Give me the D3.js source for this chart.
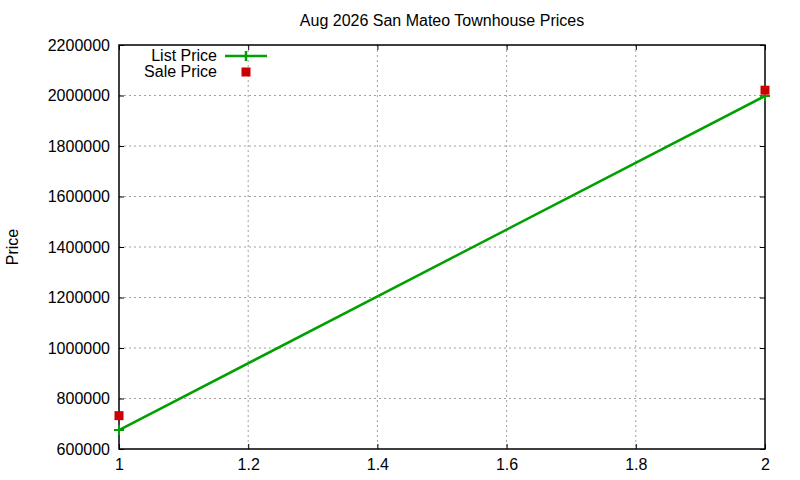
<!DOCTYPE html>
<html>
<head>
<meta charset="utf-8">
<title>Aug 2026 San Mateo Townhouse Prices</title>
<script src="https://d3js.org/d3.v7.min.js"></script>
<style>
    body { margin:0; background:#fff; }
    svg { display:block; font-family:'Liberation Sans', Arial, sans-serif; }
</style>
</head>
<body>
<svg width="800" height="480"></svg>
<script>
    // chart data
    const title = 'Aug 2026 San Mateo Townhouse Prices';
    const seriesNames = ['List Price', 'Sale Price'];
    const xValues = [1, 2];
    const listPrice = [675000, 1998000];
    const salePrice = [732000, 2021000];
    const xTicks = [1, 1.2, 1.4, 1.6, 1.8, 2];
    const yTicks = [600000, 800000, 1000000, 1200000, 1400000, 1600000, 1800000, 2000000, 2200000];

    const svg = d3.select('svg');
    const margin = { top: 45, left: 119, right: 35, bottom: 31 };
    const width = 800, height = 480;
    const innerWidth = width - margin.left - margin.right;
    const innerHeight = height - margin.top - margin.bottom;

    const g = svg.append('g')
        .attr('transform', `translate(${margin.left},${margin.top})`);

    const xScale = d3.scaleLinear().domain([1, 2]).range([0, innerWidth]);
    const yScale = d3.scaleLinear().domain([600000, 2200000]).range([innerHeight, 0]);

    const green = '#00a000';
    const red = '#cc0000';

    // grid lines
    g.selectAll('.xgrid')
        .data(xTicks.slice(1, -1))
        .join('line')
        .attr('x1', d => xScale(d)).attr('x2', d => xScale(d))
        .attr('y1', 0).attr('y2', innerHeight)
        .style('stroke', '#a0a0a0').style('stroke-dasharray', '2,3').style('stroke-width', 1);
    g.selectAll('.ygrid')
        .data(yTicks.slice(1, -1))
        .join('line')
        .attr('x1', 0).attr('x2', innerWidth)
        .attr('y1', d => yScale(d)).attr('y2', d => yScale(d))
        .style('stroke', '#a0a0a0').style('stroke-dasharray', '2,3').style('stroke-width', 1);

    // axes with inward ticks, mirrored on top and right
    const fmt = d => d3.format('d')(d);
    const axisStyle = sel => {
        sel.select('.domain').remove();
        sel.selectAll('text').style('font-size', '16px').style('fill', '#000');
        sel.selectAll('line').style('stroke', '#000');
    };
    const mirrorStyle = sel => {
        sel.select('.domain').remove();
        sel.selectAll('text').remove();
        sel.selectAll('line').style('stroke', '#000');
    };
    g.append('g').attr('transform', `translate(0,${innerHeight})`)
        .call(d3.axisBottom(xScale).tickValues(xTicks).tickSize(-5).tickPadding(10).tickFormat(d3.format('')))
        .call(axisStyle);
    g.append('g')
        .call(d3.axisTop(xScale).tickValues(xTicks).tickSize(-5))
        .call(mirrorStyle);
    g.append('g')
        .call(d3.axisLeft(yScale).tickValues(yTicks).tickSize(-5).tickPadding(9).tickFormat(fmt))
        .call(axisStyle);
    g.append('g').attr('transform', `translate(${innerWidth},0)`)
        .call(d3.axisRight(yScale).tickValues(yTicks).tickSize(-5))
        .call(mirrorStyle);

    g.append('rect')
        .attr('width', innerWidth).attr('height', innerHeight)
        .style('fill', 'none').style('stroke', '#000').style('stroke-width', 1.5);

    // list price line
    const pts = xValues.map((x, i) => ({ x: x, list: listPrice[i], sale: salePrice[i] }));
    g.append('path')
        .datum(pts)
        .attr('d', d3.line().x(d => xScale(d.x)).y(d => yScale(d.list)))
        .style('fill', 'none').style('stroke', green).style('stroke-width', 2.5);
    g.selectAll('.plus')
        .data(pts)
        .join('path')
        .attr('d', d => `M${xScale(d.x) - 5},${yScale(d.list)}h10M${xScale(d.x)},${yScale(d.list) - 5}v10`)
        .style('stroke', green).style('stroke-width', 2);

    // sale price squares
    g.selectAll('.sq')
        .data(pts)
        .join('rect')
        .attr('x', d => xScale(d.x) - 4.5).attr('y', d => yScale(d.sale) - 4.5)
        .attr('width', 9).attr('height', 9)
        .style('fill', red);

    // legend
    const legend = svg.append('g');
    legend.append('text').attr('x', 217).attr('y', 61).attr('text-anchor', 'end')
        .style('font-size', '16px').text(seriesNames[0]);
    legend.append('path').attr('d', 'M225,56h42M246,51v10')
        .style('stroke', green).style('stroke-width', 2.5);
    legend.append('text').attr('x', 217).attr('y', 77).attr('text-anchor', 'end')
        .style('font-size', '16px').text(seriesNames[1]);
    legend.append('rect').attr('x', 241.5).attr('y', 67.5).attr('width', 9).attr('height', 9)
        .style('fill', red);

    // title and axis label
    svg.append('text').attr('x', margin.left + innerWidth / 2).attr('y', 26)
        .attr('text-anchor', 'middle').style('font-size', '16px').text(title);
    svg.append('text')
        .attr('transform', `translate(18,${margin.top + innerHeight / 2}) rotate(-90)`)
        .attr('text-anchor', 'middle').style('font-size', '16px').text('Price');
</script>
</body>
</html>
